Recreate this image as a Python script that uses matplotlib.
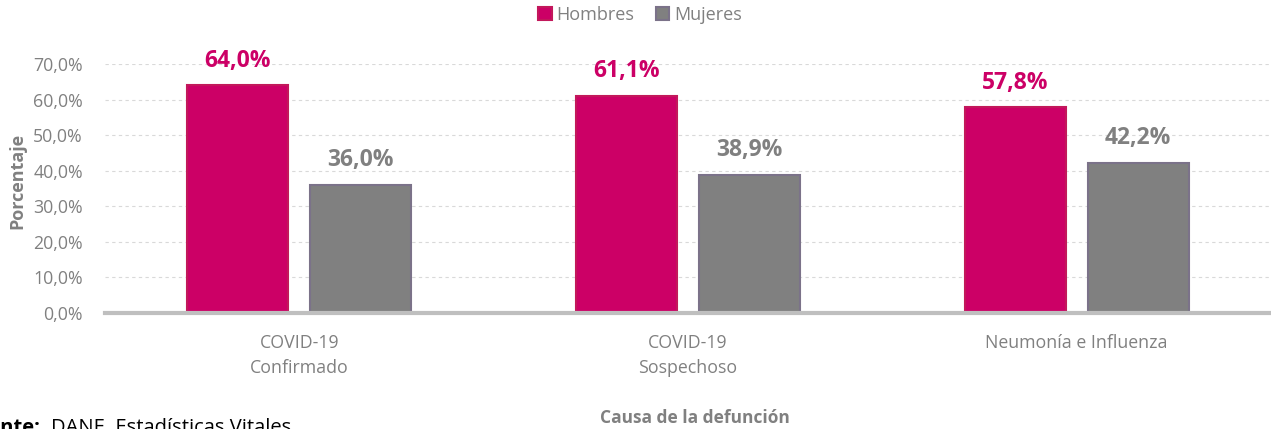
import matplotlib
matplotlib.use("Agg")
import matplotlib.pyplot as plt
import numpy as np

categories = ["COVID-19\nConfirmado", "COVID-19\nSospechoso", "Neumonía e Influenza"]
series_names = ["Hombres", "Mujeres"]
hombres = [64.0, 61.1, 57.8]
mujeres = [36.0, 38.9, 42.2]
yticks = [0, 10, 20, 30, 40, 50, 60, 70]

plt.rcParams['font.family'] = ['Open Sans', 'DejaVu Sans']

C_H = "#CC0066"
C_H_EDGE = "#C2185B"
C_M = "#808080"
C_M_EDGE = "#7B7289"
GRAY_TXT = "#808080"

fig = plt.figure(figsize=(12.71, 4.29), dpi=100)
ax = fig.add_axes([105/1271, (429-313)/429, 1 - 105/1271, (313-64)/429])

x = np.arange(len(categories))
w = 0.26
off = 0.158
b1 = ax.bar(x - off, hombres, w, color=C_H, edgecolor=C_H_EDGE, linewidth=1.5, zorder=3, label=series_names[0])
b2 = ax.bar(x + off, mujeres, w, color=C_M, edgecolor=C_M_EDGE, linewidth=1.5, zorder=3, label=series_names[1])

def fmt(v):
    return f"{v:.1f}%".replace(".", ",")

for xi, v in zip(x - off, hombres):
    ax.annotate(fmt(v), (xi, v), xytext=(0, 9), textcoords="offset points",
                ha="center", va="bottom", color=C_H, fontsize=16.5, fontweight="bold")
for xi, v in zip(x + off, mujeres):
    ax.annotate(fmt(v), (xi, v), xytext=(0, 9), textcoords="offset points",
                ha="center", va="bottom", color=GRAY_TXT, fontsize=16.5, fontweight="bold")

ax.set_xlim(-0.5, 2.5)
ax.set_ylim(0, 70)
ax.set_yticks(yticks)
ax.set_yticklabels([f"{t:.1f}%".replace(".", ",") for t in yticks])
ax.set_xticks(x)
ax.set_xticklabels(categories)
ax.tick_params(axis="y", length=0, pad=16, labelsize=12.8, labelcolor=GRAY_TXT)
ax.tick_params(axis="x", length=0, pad=15, labelsize=12.8, labelcolor=GRAY_TXT)
for lbl in ax.get_xticklabels():
    lbl.set_linespacing(1.5)

ax.grid(axis="y", color="#d9d9d9", linestyle=(0, (3, 3)), linewidth=0.8, zorder=0)
ax.set_axisbelow(True)
for s in ["top", "right", "left"]:
    ax.spines[s].set_visible(False)
ax.spines["bottom"].set_color("#bfbfbf")
ax.spines["bottom"].set_linewidth(3)
ax.spines["bottom"].set_zorder(4)

ax.set_ylabel("Porcentaje", fontsize=13, fontweight="bold", color=GRAY_TXT)
ax.yaxis.set_label_coords(-79/1166, 0.53)
fig.text(695/1271, 1 - 418/429, "Causa de la defunción", ha="center", va="center",
         fontsize=12.5, fontweight="bold", color=GRAY_TXT)

leg = fig.legend(handles=[b1, b2], labels=series_names, loc="center", bbox_to_anchor=(640/1271, 1 - 15/429),
                 ncol=2, frameon=False, fontsize=13, handlelength=0.75, handleheight=0.75,
                 handletextpad=0.25, columnspacing=1.2)
for t in leg.get_texts():
    t.set_color(GRAY_TXT)

fig.text(-36/1271, 1 - 418/429, "Fuente:", ha="left", va="top", fontsize=14.5, fontweight="bold", color="black")
fig.text(51/1271, 1 - 418/429, "DANE, Estadísticas Vitales", ha="left", va="top", fontsize=14.5, color="black")

fig.savefig("out.png", dpi=100)
